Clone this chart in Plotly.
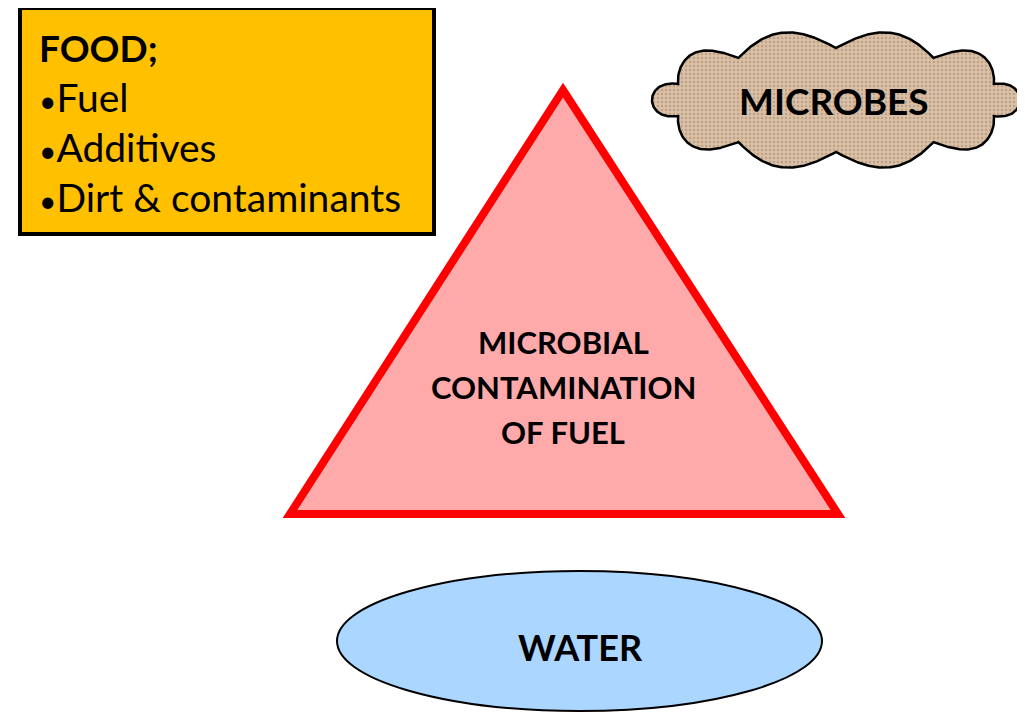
import numpy as np
import plotly.graph_objects as go

# ---- content (text data) ----
food_title = "FOOD;"
food_items = ["Fuel", "Additives", "Dirt & contaminants"]
center_lines = ["MICROBIAL", "CONTAMINATION", "OF FUEL"]
cloud_label = "MICROBES"
water_label = "WATER"

# ---- layout geometry (pixel canvas; page body has an 8px margin) ----
W, H = 1025, 714
OFF = 8
FONT = "Lato, 'Open Sans', sans-serif"

fig = go.Figure()
shapes = []
annotations = []

# Food box
shapes.append(dict(type="rect", x0=20, x1=434, y0=8, y1=234,
                   fillcolor="#FFC000", line=dict(color="black", width=4), layer="below"))
annotations.append(dict(x=37, y=47, text="<b>" + food_title + "</b>", showarrow=False,
                        xanchor="left", yanchor="middle",
                        font=dict(family=FONT, size=37, color="black")))
for i, item in enumerate(food_items):
    annotations.append(dict(x=37, y=97 + 50 * i,
                            text="<span style='font-size:30px'>\u2022</span>" + item,
                            showarrow=False, xanchor="left", yanchor="middle",
                            font=dict(family=FONT, size=39, color="black")))

# Cloud (scalloped ellipse)
cx, cy, rx, ry, amp, nb = 836, 100, 166, 52, 18, 5
th = np.linspace(0, 2 * np.pi, 721)
ex = cx + rx * np.cos(th)
ey = cy + ry * np.sin(th)
nx = np.cos(th) / rx
ny = np.sin(th) / ry
nn = np.hypot(nx, ny)
bump = amp * np.abs(np.sin(nb * th + np.pi / 2))
px = ex + nx / nn * bump
py = ey + ny / nn * bump
fig.add_trace(go.Scatter(
    x=px, y=py, mode="lines", fill="toself", fillcolor="#D8BFA6",
    fillpattern=dict(shape=".", fgcolor="#BFA286", bgcolor="#D9C0A7",
                     size=4, solidity=0.3, fillmode="replace"),
    line=dict(color="black", width=2.5), hoverinfo="skip", showlegend=False))
annotations.append(dict(x=834, y=100, text="<b>" + cloud_label + "</b>", showarrow=False,
                        xanchor="center", yanchor="middle",
                        font=dict(family=FONT, size=37, color="black")))

# Triangle
shapes.append(dict(type="path", path="M 563,90 L 838,514 L 290,514 Z",
                   fillcolor="#FFAAAA", line=dict(color="#FF0000", width=8), layer="below"))
for i, ln in enumerate(center_lines):
    annotations.append(dict(x=563, y=342 + 45 * i, text="<b>" + ln + "</b>", showarrow=False,
                            xanchor="center", yanchor="middle",
                            font=dict(family=FONT, size=31, color="black")))

# Water ellipse
shapes.append(dict(type="circle", x0=337, x1=822, y0=571, y1=711,
                   fillcolor="#ABD6FF", line=dict(color="black", width=2), layer="below"))
annotations.append(dict(x=580, y=647, text="<b>" + water_label + "</b>", showarrow=False,
                        xanchor="center", yanchor="middle",
                        font=dict(family=FONT, size=36, color="black")))

fig.update_layout(
    width=W - OFF, height=H - OFF, margin=dict(l=0, r=0, t=0, b=0),
    paper_bgcolor="white", plot_bgcolor="white",
    xaxis=dict(range=[OFF, W], visible=False, fixedrange=True),
    yaxis=dict(range=[H, OFF], visible=False, fixedrange=True),
    shapes=shapes, annotations=annotations, showlegend=False,
)
fig.write_html("out.html")
